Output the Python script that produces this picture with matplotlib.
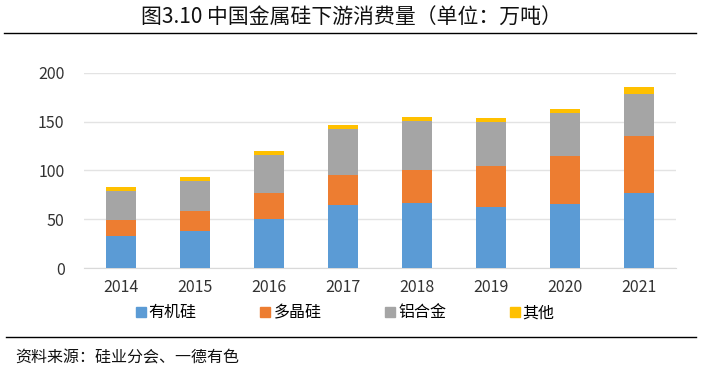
import numpy as np
import matplotlib
matplotlib.use("Agg")
import matplotlib.pyplot as plt
from matplotlib.lines import Line2D

plt.rcParams['font.family'] = ['Noto Sans CJK SC', 'DejaVu Sans']

years = ['2014', '2015', '2016', '2017', '2018', '2019', '2020', '2021']
organic = [33, 38, 50, 65, 67, 63, 66, 76.5]
poly = [16.5, 20, 26.5, 30, 34, 42, 48.5, 59]
alloy = [29.5, 31, 39, 47.5, 50, 45, 44.5, 42.5]
other = [4.5, 4.5, 4, 4, 4, 4, 4.5, 7.5]
names = ['有机硅', '多晶硅', '铝合金', '其他']
colors = ['#5B9BD5', '#ED7D31', '#A5A5A5', '#FFC000']

fig = plt.figure(figsize=(7.03, 3.78), dpi=100)
ax = fig.add_axes([0.1195, 0.291, 0.842, 0.516])

x = np.arange(len(years))
bottom = np.zeros(len(years))
for vals, c in zip([organic, poly, alloy, other], colors):
    ax.bar(x, vals, width=0.41, bottom=bottom, color=c, zorder=3)
    bottom += np.array(vals)

ax.set_xlim(-0.5, len(years) - 0.5)
ax.set_ylim(0, 200)
ax.set_yticks([0, 50, 100, 150, 200])
ax.set_xticks(x)
ax.set_xticklabels(years)
ax.tick_params(axis='both', length=0, labelsize=11.5, colors='#333333')
ax.tick_params(axis='x', pad=8)
ax.tick_params(axis='y', pad=14)
ax.grid(axis='y', color='#E3E3E3', linewidth=1, zorder=0)
for s in ['top', 'right', 'left']:
    ax.spines[s].set_visible(False)
ax.spines['bottom'].set_color('#D9D9D9')

handles = [Line2D([], [], marker='s', linestyle='none', markersize=7,
                  markerfacecolor=c, markeredgecolor=c) for c in colors]
fig.legend(handles, names, loc='center', bbox_to_anchor=(0.49, 0.172), ncol=4,
           frameon=False, fontsize=11.5, handletextpad=0.1, columnspacing=3.9,
           handlelength=0.8)

fig.text(0.5, 0.953, '图3.10 中国金属硅下游消费量（单位：万吨）', ha='center', va='center',
         fontsize=15, color='#111111')
fig.add_artist(Line2D([0.005, 0.99], [0.912, 0.912], color='black', linewidth=1))
fig.add_artist(Line2D([0.008, 0.99], [0.108, 0.108], color='black', linewidth=1))
fig.text(0.022, 0.053, '资料来源：硅业分会、一德有色', ha='left', va='center',
         fontsize=11.5, color='#111111')

fig.savefig('out.png', dpi=100)
